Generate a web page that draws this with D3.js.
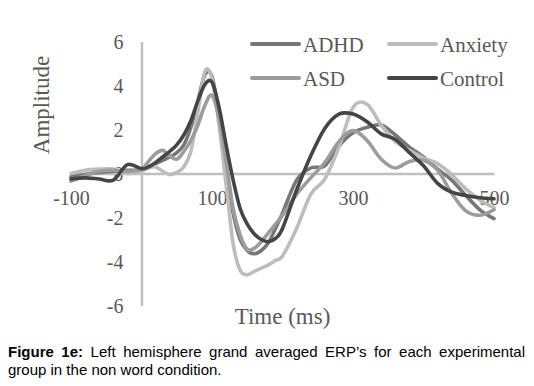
<!DOCTYPE html>
<html>
<head>
<meta charset="utf-8">
<script src="https://cdn.jsdelivr.net/npm/d3@7"></script>
<style>
  body { margin: 0; background: #fff; }
  #chart { position: relative; width: 534px; height: 386px; }
  .caption { position: absolute; left: 8px; width: 517px; font-family: "Liberation Sans", Arial, sans-serif; font-size: 15px; color: #000; line-height: 18px; }
  .caption.l1 { top: 343px; text-align: justify; text-align-last: justify; }
  .caption.l2 { top: 361px; }
</style>
</head>
<body>
<div id="chart"></div>
<script>
// values (time in ms, amplitude in uV)
var times = [-100,-80,-60,-40,-20,0,10,20,30,40,50,60,70,80,90,100,110,120,130,140,150,160,170,180,190,200,220,240,260,280,300,320,340,360,380,400,420,440,460,480,500];

var adhd = [-0.15,-0.05,0.05,0.1,0.15,0.15,0.3,0.45,0.6,0.75,0.95,1.3,2.1,3.3,4.5,4.4,2.6,0.3,-1.8,-3.0,-3.5,-3.65,-3.5,-3.15,-2.5,-1.8,-0.3,0.25,0.35,1.25,1.85,2.1,2.2,1.75,1.2,0.75,0.2,-0.3,-1.0,-1.65,-2.05];
var anxiety = [0.0,0.15,0.2,0.2,0.0,0.1,0.25,0.3,0.1,-0.05,0.05,0.3,1.0,2.8,4.65,4.3,2.2,-0.5,-3.2,-4.4,-4.6,-4.45,-4.3,-4.15,-3.95,-3.75,-2.5,-0.95,-0.25,1.2,3.0,3.15,2.2,1.45,1.05,0.7,0.45,-0.05,-0.7,-1.2,-1.55];
var asd = [-0.35,-0.1,0.1,0.15,0.1,0.2,0.55,0.9,1.05,0.8,0.65,1.0,1.5,2.2,3.1,3.55,2.5,0.55,-1.6,-2.8,-3.45,-3.4,-3.1,-2.7,-2.3,-1.9,-0.95,-0.2,0.5,1.45,1.95,1.5,0.65,0.25,0.55,0.6,0.15,-0.9,-1.7,-1.9,-1.65];
var control = [-0.25,-0.2,-0.25,-0.3,0.4,0.22,0.3,0.5,0.75,1.0,1.3,1.75,2.4,3.3,4.05,4.15,3.0,1.3,-0.3,-1.6,-2.3,-2.75,-3.0,-3.1,-2.95,-2.5,-0.75,0.8,2.05,2.7,2.7,2.35,1.8,1.55,0.95,0.35,-0.45,-0.85,-1.0,-1.1,-1.15];

var seriesNames = ["ADHD", "Anxiety", "ASD", "Control"];
var seriesColors = ["#777777", "#bdbdbd", "#9c9c9c", "#454545"];
var xTicks = [-100, 100, 300, 500];
var yTicks = [-6, -4, -2, 0, 2, 4, 6];

var W = 534, H = 386;
var serif = '"Liberation Serif", "Times New Roman", serif';
var textCol = "#595959";
var plain = function(d) { return String(d); }; // keep the hyphen minus of the original

var svg = d3.select("#chart").append("svg")
  .attr("width", W).attr("height", H)
  .style("position", "absolute").style("left", 0).style("top", 0);

var x = d3.scaleLinear().domain([-100, 500]).range([71, 494]);
var y = d3.scaleLinear().domain([-6, 6]).range([305.5, 41.5]);

// y axis sits at time 0
var yAxis = svg.append("g")
  .attr("transform", "translate(" + x(0) + ",0)")
  .call(d3.axisLeft(y).tickValues(yTicks).tickSize(0).tickSizeOuter(0).tickPadding(18).tickFormat(plain));

// x axis sits at amplitude 0
var xAxis = svg.append("g")
  .attr("transform", "translate(0," + y(0) + ")")
  .call(d3.axisBottom(x).tickValues(xTicks).tickSize(0).tickSizeOuter(0).tickPadding(17.5).tickFormat(plain));

[xAxis, yAxis].forEach(function(g) {
  g.select(".domain").attr("stroke", "#bfbfbf").attr("stroke-width", 2.4);
  g.selectAll("text").attr("fill", textCol).style("font-family", serif).style("font-size", "20px");
});
yAxis.selectAll("text").attr("dy", "0.33em");

// axis titles
svg.append("text")
  .attr("transform", "translate(49,105) rotate(-90)")
  .attr("text-anchor", "middle")
  .attr("fill", textCol)
  .style("font-family", serif).style("font-size", "23px")
  .text("Amplitude");

svg.append("text")
  .attr("x", 282.5).attr("y", 324)
  .attr("text-anchor", "middle")
  .attr("fill", textCol)
  .style("font-family", serif).style("font-size", "23px")
  .text("Time (ms)");

// lines
var allSeries = [adhd, anxiety, asd, control];
var line = d3.line()
  .x(function(d, i) { return x(times[i]); })
  .y(function(d) { return y(d); })
  .curve(d3.curveCardinal.tension(0));

svg.append("g").selectAll("path")
  .data(allSeries)
  .enter()
  .append("path")
  .attr("d", line)
  .attr("fill", "none")
  .attr("stroke", function(d, i) { return seriesColors[i]; })
  .attr("stroke-width", 3.6)
  .attr("stroke-linecap", "round")
  .attr("stroke-linejoin", "round");

// legend, 2 x 2
var leg = svg.append("g").selectAll("g")
  .data(seriesNames)
  .enter()
  .append("g")
  .attr("transform", function(d, i) {
    return "translate(" + (i % 2 === 0 ? 252 : 389) + "," + (i < 2 ? 44 : 78) + ")";
  });

leg.append("line")
  .attr("x1", 0).attr("x2", 47).attr("y1", 0).attr("y2", 0)
  .attr("stroke", function(d, i) { return seriesColors[i]; })
  .attr("stroke-width", 4)
  .attr("stroke-linecap", "round");

leg.append("text")
  .attr("x", 51).attr("y", 7.5)
  .attr("fill", textCol)
  .style("font-family", serif).style("font-size", "21px")
  .text(function(d) { return d; });
</script>
<div class="caption l1"><b>Figure 1e:</b> Left hemisphere grand averaged ERP’s for each experimental</div>
<div class="caption l2">group in the non word condition.</div>
</body>
</html>
